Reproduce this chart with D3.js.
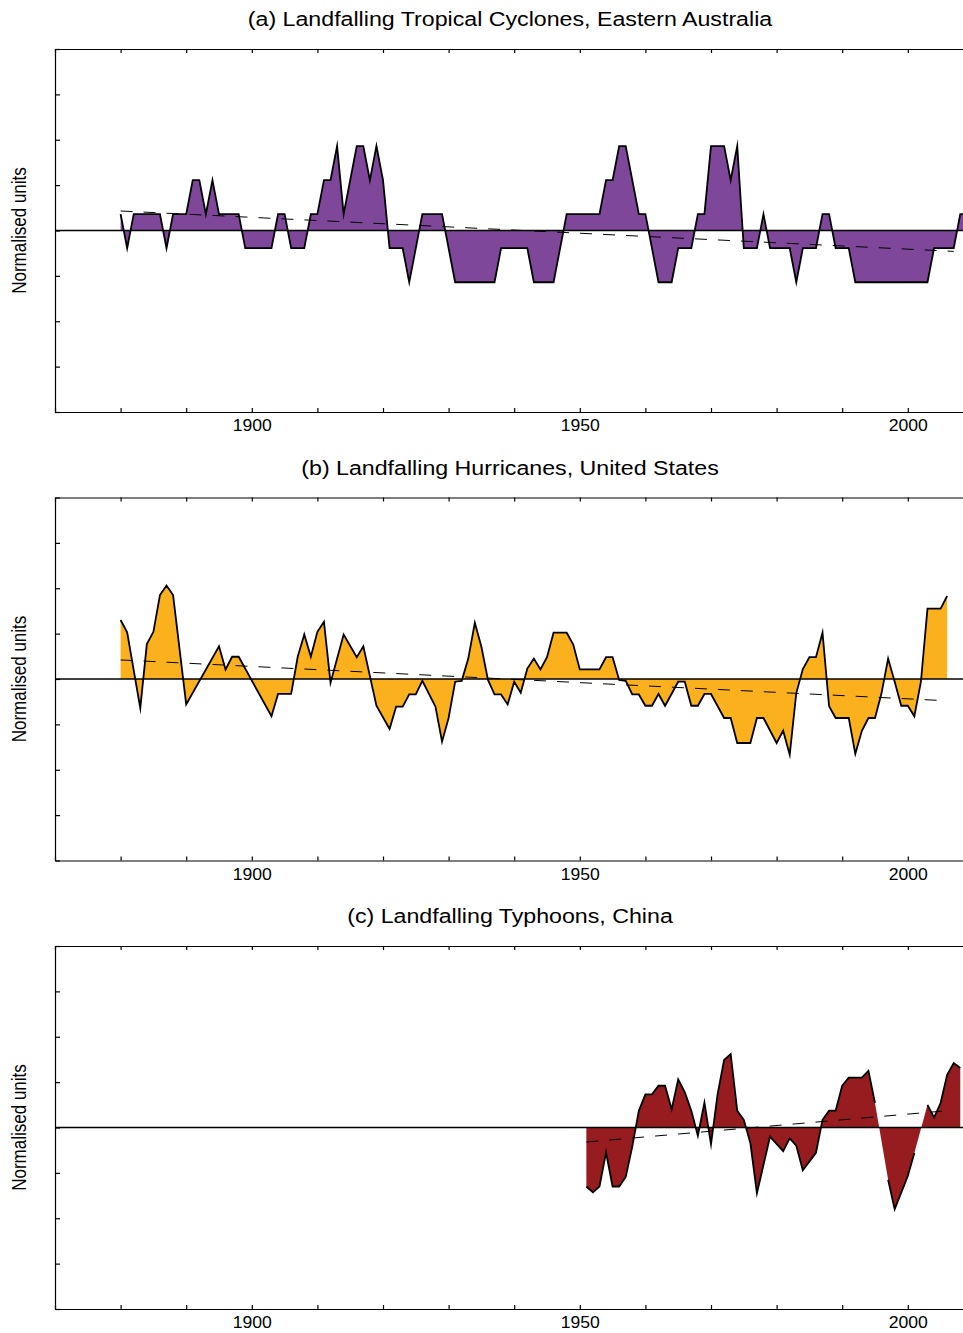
<!DOCTYPE html>
<html>
<head>
<meta charset="utf-8">
<script src="https://cdn.jsdelivr.net/npm/d3@7"></script>
<style>
  body { margin: 0; background: #fff; }
  svg { display: block; }
  text { font-family: "Liberation Sans", Arial, Helvetica, sans-serif; fill: #000; }
</style>
</head>
<body>
<svg id="chart" width="963" height="1333"></svg>
<script>
// Axis ticks
const tickYears = d3.range(1870, 2011, 10);
const labelYears = [1900, 1950, 2000];
const unitTicks = d3.range(-4, 5);

// (a) Eastern Australia tropical cyclone landfalls (normalised)
const ausYears = [1880, 1881, 1882, 1886, 1887, 1888, 1890, 1891, 1892, 1893, 1894, 1895, 1898, 1899,
  1903, 1904, 1905, 1906, 1908, 1909, 1910, 1911, 1912, 1913, 1914, 1916, 1917, 1918, 1919, 1920,
  1921, 1923, 1924, 1926, 1929, 1931, 1937, 1938, 1942, 1943, 1946, 1948, 1953, 1954, 1955, 1956,
  1957, 1959, 1960, 1962, 1964, 1965, 1967, 1968, 1969, 1970, 1972, 1973, 1974, 1975, 1977, 1978,
  1979, 1982, 1983, 1984, 1986, 1987, 1988, 1989, 1991, 1992, 2003, 2004, 2007, 2008, 2009];
const ausValues = [0.36, -0.39, 0.36, 0.36, -0.39, 0.36, 0.36, 1.11, 1.11, 0.36, 1.11, 0.36, 0.36, -0.39,
  -0.39, 0.36, 0.36, -0.39, -0.39, 0.36, 0.36, 1.11, 1.11, 1.86, 0.36, 1.86, 1.86, 1.11, 1.86, 1.11,
  -0.39, -0.39, -1.14, 0.36, 0.36, -1.14, -1.14, -0.39, -0.39, -1.14, -1.14, 0.36, 0.36, 1.11, 1.11, 1.86,
  1.86, 0.36, 0.36, -1.14, -1.14, -0.39, -0.39, 0.36, 0.36, 1.86, 1.86, 1.11, 1.86, -0.39, -0.39, 0.36,
  -0.39, -0.39, -1.14, -0.39, -0.39, 0.36, 0.36, -0.39, -0.39, -1.14, -1.14, -0.39, -0.39, 0.36, 0.36];
const ausTrendYears = [1880, 2007];
const ausTrendValues = [0.43, -0.46];

// (b) United States hurricane landfalls (normalised)
const usYears = [1880, 1881, 1883, 1884, 1885, 1886, 1887, 1888, 1890, 1895, 1896, 1897, 1898, 1903,
  1904, 1906, 1907, 1908, 1909, 1910, 1911, 1912, 1914, 1916, 1917, 1919, 1921, 1922, 1923, 1924,
  1925, 1926, 1928, 1929, 1930, 1931, 1932, 1933, 1934, 1935, 1936, 1937, 1938, 1939, 1940, 1941,
  1942, 1943, 1944, 1945, 1946, 1948, 1949, 1950, 1953, 1954, 1955, 1956, 1957, 1958, 1959, 1960,
  1961, 1962, 1963, 1965, 1966, 1967, 1968, 1969, 1970, 1972, 1973, 1974, 1976, 1977, 1978, 1980,
  1981, 1982, 1983, 1984, 1985, 1986, 1987, 1988, 1989, 1991, 1992, 1993, 1994, 1995, 1996, 1997,
  1998, 1999, 2000, 2001, 2002, 2003, 2005, 2006];
const usValues = [1.30, 1.03, -0.64, 0.77, 1.04, 1.85, 2.06, 1.85, -0.56, 0.72, 0.21, 0.49, 0.49, -0.82,
  -0.33, -0.33, 0.49, 0.98, 0.49, 1.04, 1.26, -0.08, 0.98, 0.48, 0.72, -0.59, -1.10, -0.61, -0.61, -0.34,
  -0.34, -0.04, -0.61, -1.38, -0.86, -0.06, -0.04, 0.45, 1.24, 0.71, -0.02, -0.34, -0.34, -0.56, -0.06, -0.30,
  0.23, 0.45, 0.21, 0.48, 1.02, 1.02, 0.76, 0.21, 0.21, 0.48, 0.48, -0.02, -0.04, -0.34, -0.34, -0.59,
  -0.59, -0.33, -0.59, -0.06, -0.06, -0.59, -0.59, -0.33, -0.33, -0.86, -0.86, -1.41, -1.41, -0.86, -0.86, -1.41,
  -1.14, -1.67, -0.31, 0.22, 0.48, 0.48, 1.02, -0.60, -0.86, -0.86, -1.65, -1.14, -0.86, -0.86, -0.31, 0.45,
  -0.06, -0.59, -0.59, -0.82, -0.06, 1.55, 1.55, 1.83];
const usTrendYears = [1880, 2006];
const usTrendValues = [0.42, -0.48];

// (c) China typhoon landfalls (normalised); null = year not reported
const cnYears = [1951, 1952, 1953, 1954, 1955, 1956, 1957, 1958, 1959, 1960, 1961, 1962, 1963, 1964,
  1965, 1966, 1967, 1968, 1969, 1970, 1971, 1972, 1973, 1974, 1975, 1976, 1977, 1979, 1981, 1982,
  1983, 1984, 1986, 1987, 1988, 1989, 1990, 1991, 1993, 1994, 1995, 1996, 1997, 1998, 2000, 2001,
  2002, 2003, 2004, 2005, 2006, 2007, 2008];
const cnValues = [-1.30, -1.43, -1.30, -0.55, -1.30, -1.30, -1.09, -0.42, 0.37, 0.73, 0.73, 0.92, 0.92, 0.40,
  1.06, 0.78, 0.37, -0.18, 0.55, -0.37, 0.73, 1.49, 1.62, 0.37, 0.17, -0.34, -1.45, -0.20, -0.52, -0.24,
  -0.40, -0.94, -0.56, 0.17, 0.37, 0.37, 0.92, 1.10, 1.10, 1.25, 0.54, null, -1.15, -1.80, -1.07, -0.56,
  null, 0.50, 0.22, 0.54, 1.16, 1.42, 1.31];
const cnTrendYears = [1951, 2006];
const cnTrendValues = [-0.32, 0.37];

const panels = [
  { title: "(a) Landfalling Tropical Cyclones, Eastern Australia", years: ausYears, values: ausValues,
    trendYears: ausTrendYears, trendValues: ausTrendValues, color: "#7E479A", top: 49 },
  { title: "(b) Landfalling Hurricanes, United States", years: usYears, values: usValues,
    trendYears: usTrendYears, trendValues: usTrendValues, color: "#FBB11D", top: 497.5 },
  { title: "(c) Landfalling Typhoons, China", years: cnYears, values: cnValues,
    trendYears: cnTrendYears, trendValues: cnTrendValues, color: "#971C20", top: 946 }
];

const W = 963;
const plotH = 363;
const stretch = 1.16;
const svg = d3.select("#chart");
const x = d3.scaleLinear().domain([1870, 2010]).range([55, 973.4]);

panels.forEach(p => {
  const y = d3.scaleLinear().domain([-4, 4]).range([p.top + plotH, p.top]);
  const g = svg.append("g");
  const pts = p.years.map((yr, i) => ({ yr, v: p.values[i] }));
  const valid = pts.filter(d => d.v != null);

  // filled anomaly area relative to zero
  g.append("path")
    .datum(valid)
    .attr("fill", p.color)
    .attr("d", d3.area().x(d => x(d.yr)).y0(y(0)).y1(d => y(d.v)));

  // zero reference line
  g.append("line")
    .attr("x1", x(1870)).attr("x2", W)
    .attr("y1", y(0)).attr("y2", y(0))
    .attr("stroke", "#000").attr("stroke-width", 1.4);

  // linear trend
  const trend = p.trendYears.map((yr, i) => ({ yr, v: p.trendValues[i] }));
  g.append("path")
    .datum(trend)
    .attr("fill", "none")
    .attr("stroke", "#000")
    .attr("stroke-width", 1)
    .attr("stroke-dasharray", "12,11")
    .attr("d", d3.line().x(d => x(d.yr)).y(d => y(d.v)));

  // series outline
  g.append("path")
    .datum(pts)
    .attr("fill", "none")
    .attr("stroke", "#000")
    .attr("stroke-width", 1.8)
    .attr("stroke-linejoin", "miter")
    .attr("stroke-miterlimit", 10)
    .attr("d", d3.line().defined(d => d.v != null).x(d => x(d.yr)).y(d => y(d.v)));

  // axes
  const bottom = g.append("g")
    .attr("transform", `translate(0,${y(-4)})`)
    .call(d3.axisBottom(x).tickValues(tickYears).tickSize(-4).tickSizeOuter(0).tickPadding(8)
      .tickFormat(d => labelYears.includes(d) ? d : ""));
  bottom.selectAll("text")
    .attr("font-size", 16)
    .attr("transform", "scale(1.1,1)");

  g.append("g")
    .attr("transform", `translate(0,${y(4)})`)
    .call(d3.axisTop(x).tickValues(tickYears).tickSize(-4).tickSizeOuter(0).tickFormat(""));

  g.append("g")
    .attr("transform", `translate(${x(1870)},0)`)
    .call(d3.axisLeft(y).tickValues(unitTicks).tickSize(-5).tickSizeOuter(0).tickFormat(""));

  g.selectAll(".domain, .tick line").attr("stroke", "#000").attr("stroke-width", 1.2);

  // panel title
  g.append("text")
    .attr("transform", `translate(510,${p.top - 23}) scale(${stretch},1)`)
    .attr("text-anchor", "middle")
    .attr("font-size", 20)
    .text(p.title);

  // y-axis label
  g.append("text")
    .attr("transform", `translate(26,${y(0)}) scale(${stretch},1) rotate(-90)`)
    .attr("text-anchor", "middle")
    .attr("font-size", 17)
    .text("Normalised units");
});
</script>
</body>
</html>
